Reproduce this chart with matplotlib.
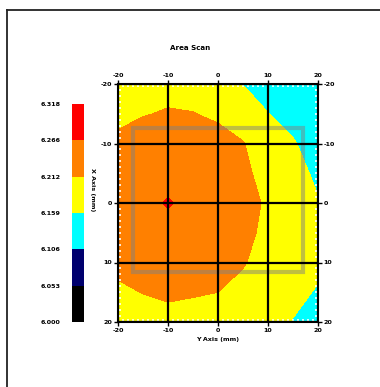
import numpy as np
import matplotlib
matplotlib.use('Agg')
import matplotlib.pyplot as plt
from matplotlib.lines import Line2D
from matplotlib.patches import Rectangle
from matplotlib.ticker import MultipleLocator

plt.rcParams['axes.unicode_minus'] = False
plt.rcParams['font.weight'] = 'bold'
plt.rcParams['axes.labelweight'] = 'bold'

# scan grid (mm) and measured signal, rows = X axis (vertical), cols = Y axis (horizontal)
y_pos = [-20, -15, -10, -5, 0, 5, 10, 15, 20]
x_pos = [-20, -15, -10, -5, 0, 5, 10, 15, 20]
signal = [
    [6.190, 6.196, 6.200, 6.198, 6.188, 6.158, 6.138, 6.118, 6.104],
    [6.205, 6.210, 6.215, 6.213, 6.206, 6.190, 6.160, 6.143, 6.118],
    [6.218, 6.230, 6.235, 6.232, 6.225, 6.214, 6.185, 6.163, 6.136],
    [6.235, 6.245, 6.250, 6.245, 6.235, 6.222, 6.195, 6.176, 6.150],
    [6.240, 6.250, 6.270, 6.250, 6.240, 6.225, 6.207, 6.185, 6.162],
    [6.235, 6.245, 6.250, 6.245, 6.235, 6.222, 6.203, 6.182, 6.166],
    [6.222, 6.230, 6.235, 6.232, 6.225, 6.215, 6.195, 6.175, 6.164],
    [6.205, 6.213, 6.218, 6.215, 6.212, 6.200, 6.185, 6.165, 6.157],
    [6.190, 6.196, 6.200, 6.198, 6.195, 6.185, 6.175, 6.158, 6.145],
]
levels = [6.000, 6.053, 6.106, 6.159, 6.212, 6.266, 6.318]
level_labels = ['6.000', '6.053', '6.106', '6.159', '6.212', '6.266', '6.318']
band_colors = ['#000000', '#00006e', '#00ffff', '#ffff00', '#ff8000', '#ff0000']
axis_ticks = [-20, -10, 0, 10, 20]
scan_box = [-17.0, -12.6, 17.0, 11.6]  # x0, y0, x1, y1

fs = 4.6
fig = plt.figure(figsize=(3.8, 3.87), dpi=100)

# page frame (only top and left edges show)
fig.add_artist(Line2D([7/380, 7/380], [0, 1 - 10/387], color='#222222', lw=1.3))
fig.add_artist(Line2D([7/380, 1], [1 - 10/387, 1 - 10/387], color='#222222', lw=1.3))

ax = fig.add_axes([118/380, 65/387, 200/380, 238/387])
cs = ax.contourf(x_pos, y_pos, np.array(signal), levels=levels, colors=band_colors)

x0, y0, x1, y1 = scan_box
ax.add_patch(Rectangle((x0, y0), x1 - x0, y1 - y0, fill=False,
                       edgecolor='#808080', lw=3, alpha=0.5, zorder=1.2))

ax.set_xlim(-20, 20)
ax.set_ylim(20, -20)
ax.set_xticks(axis_ticks)
ax.set_yticks(axis_ticks)
ax.xaxis.set_minor_locator(MultipleLocator(1))
ax.yaxis.set_minor_locator(MultipleLocator(1))
ax.grid(True, which='major', color='black', lw=1.6)
ax.tick_params(which='major', direction='out', length=3, width=1,
               labelsize=fs, pad=1, top=True, right=True,
               labeltop=True, labelright=True)
ax.tick_params(which='minor', direction='in', length=2.5, width=1.2,
               color='white', top=True, right=True)
for sp in ax.spines.values():
    sp.set_linewidth(1.5)

ax.set_xlabel('Y Axis (mm)', fontsize=fs, labelpad=3)
fig.text(92/380, 1 - 190/387, 'X Axis (mm)', rotation=270, fontsize=fs,
         ha='center', va='center')
fig.text(190/380, 1 - 48/387, 'Area Scan', fontsize=fs + 0.5, ha='center', va='center')

cax = fig.add_axes([72/380, 65/387, 12/380, 218/387])
cb = fig.colorbar(cs, cax=cax, ticks=levels)
cb.outline.set_visible(False)
cax.yaxis.set_ticks_position('left')
cax.set_yticklabels(level_labels)
cax.tick_params(length=0, labelsize=fs, pad=8)

fig.savefig('out.png', dpi=100)
